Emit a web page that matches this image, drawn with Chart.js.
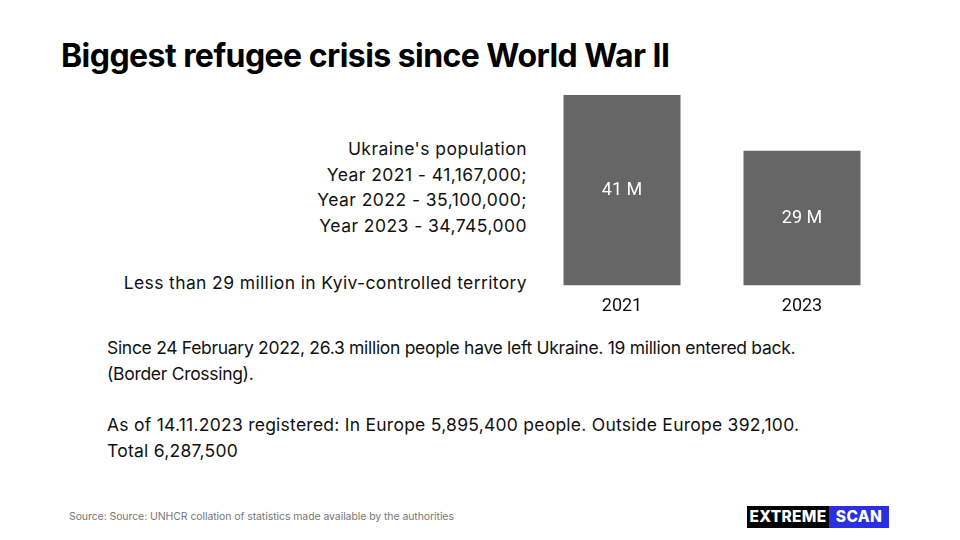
<!DOCTYPE html>
<html>
<head>
<meta charset="utf-8">
<script src="https://cdn.jsdelivr.net/npm/chart.js@4.4.0/dist/chart.umd.min.js"></script>
<style>
  html, body { margin: 0; padding: 0; background: #fff; }
  body { width: 960px; height: 540px; position: relative; overflow: hidden; font-family: Inter, "Noto Sans", sans-serif; color: #111; }
  .title { position: absolute; left: 61px; top: 36px; font-size: 32px; font-weight: 700; letter-spacing: -0.55px; color: #000; }
  .pop { position: absolute; right: 433px; top: 136px; text-align: right; font-size: 17.5px; line-height: 25.5px; letter-spacing: 0.45px; }
  .kyiv { position: absolute; right: 433px; top: 272px; font-size: 17.5px; letter-spacing: 0.37px; }
  .para { position: absolute; left: 107px; font-size: 17.5px; line-height: 25.5px; letter-spacing: -0.3px; }
  .source { position: absolute; left: 69px; top: 510px; font-size: 10.5px; color: #777; letter-spacing: -0.08px; }
  .logo { position: absolute; left: 747px; top: 506px; height: 22px; display: flex; font-weight: 800; font-size: 15.5px; color: #fff; line-height: 22px; letter-spacing: 0.3px; }
  .logo .a { background: #000; width: 82px; text-align: center; }
  .logo .b { background: #2b2fe0; width: 60px; text-align: center; }
  #wrap { position: absolute; left: 532px; top: 95px; width: 360px; height: 232px; }
</style>
</head>
<body>
<div class="title">Biggest refugee crisis since World War II</div>
<div class="pop">Ukraine's population<br>Year 2021 - 41,167,000;<br>Year 2022 - 35,100,000;<br>Year 2023 - 34,745,000</div>
<div class="kyiv">Less than 29 million in Kyiv-controlled territory</div>
<div class="para" style="top:335px">Since 24 February 2022, 26.3 million people have left Ukraine. 19 million entered back.<br>(Border Crossing).</div>
<div class="para" style="top:412px; letter-spacing:0.25px">As of 14.11.2023 registered: In Europe 5,895,400 people. Outside Europe 392,100.<br>Total 6,287,500</div>
<div class="source">Source: Source: UNHCR collation of statistics made available by the authorities</div>
<div class="logo"><span class="a">EXTREME</span><span class="b">SCAN</span></div>
<div id="wrap"><canvas id="chart"></canvas></div>
<script>
const years = ['2021', '2023'];
const populationMillions = [41, 29];
const barLabels = ['41 M', '29 M'];

const insideLabels = {
  id: 'insideLabels',
  afterDatasetsDraw(chart) {
    const ctx = chart.ctx;
    const meta = chart.getDatasetMeta(0);
    ctx.save();
    ctx.fillStyle = '#fff';
    ctx.font = '18px Roboto, "Liberation Sans", sans-serif';
    ctx.textAlign = 'center';
    ctx.textBaseline = 'middle';
    meta.data.forEach((bar, i) => {
      ctx.fillText(barLabels[i], bar.x, (bar.y + bar.base) / 2);
    });
    ctx.restore();
  }
};

new Chart(document.getElementById('chart'), {
  type: 'bar',
  data: {
    labels: years,
    datasets: [{
      data: populationMillions,
      backgroundColor: '#666666',
      borderWidth: 0,
      categoryPercentage: 0.65,
      barPercentage: 1
    }]
  },
  options: {
    responsive: true,
    maintainAspectRatio: false,
    animation: false,
    layout: { padding: 0 },
    scales: {
      y: { display: false, min: 0, max: 41 },
      x: {
        grid: { display: false, drawTicks: false },
        border: { display: false },
        ticks: { color: '#111', font: { size: 18, family: 'Roboto, "Liberation Sans", sans-serif' }, padding: 10 }
      }
    },
    plugins: { legend: { display: false }, tooltip: { enabled: false } }
  },
  plugins: [insideLabels]
});
</script>
</body>
</html>
